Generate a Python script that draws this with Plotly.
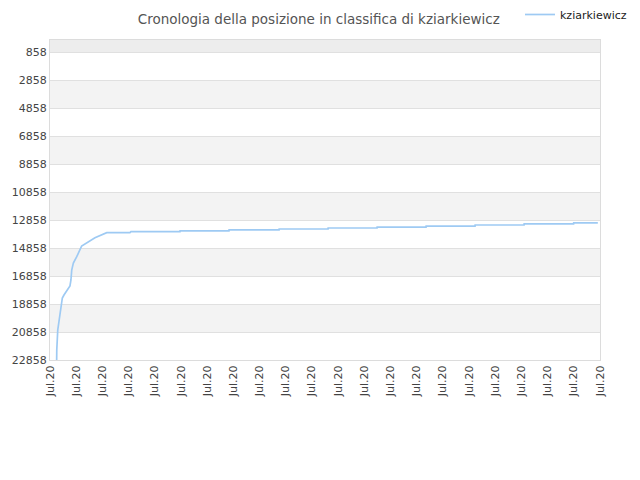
import plotly.graph_objects as go

# rank history of kziarkiewicz (lower number = better position)
timestamps = [
    "2020-07-01 06:06", "2020-07-01 06:12", "2020-07-01 07:06", "2020-07-01 08:12",
    "2020-07-01 09:48", "2020-07-01 11:18", "2020-07-01 12:48", "2020-07-01 18:18",
    "2020-07-01 19:12", "2020-07-01 19:54", "2020-07-01 21:24", "2020-07-02 00:30",
    "2020-07-02 05:00", "2020-07-02 11:06", "2020-07-02 17:12", "2020-07-03 04:00",
    "2020-07-04 01:18", "2020-07-04 02:12",
    "2020-07-05 23:06", "2020-07-05 23:12",
    "2020-07-07 20:00", "2020-07-07 20:06",
    "2020-07-09 17:54", "2020-07-09 18:00",
    "2020-07-11 14:48", "2020-07-11 14:54",
    "2020-07-13 11:42", "2020-07-13 11:48",
    "2020-07-15 08:36", "2020-07-15 08:42",
    "2020-07-17 05:30", "2020-07-17 05:36",
    "2020-07-19 02:24", "2020-07-19 02:30",
    "2020-07-20 23:48", "2020-07-20 23:54",
    "2020-07-21 22:00",
]
ranks = [
    22858, 22144, 20715, 20001,
    19051, 18429, 18215, 17572,
    17144, 16430, 15929, 15480,
    14715, 14408, 14122, 13765,
    13765, 13694,
    13694, 13630,
    13630, 13565,
    13565, 13500,
    13500, 13430,
    13430, 13360,
    13360, 13290,
    13290, 13215,
    13215, 13140,
    13140, 13070,
    13070,
]
y_ticks = [858, 2858, 4858, 6858, 8858, 10858, 12858, 14858, 16858, 18858, 20858, 22858]
y_top = 0
x_start = "2020-07-01"
x_end = "2020-07-22"

fig = go.Figure()
fig.add_trace(go.Scatter(
    x=timestamps, y=ranks, mode="lines", name="kziarkiewicz",
    line=dict(color="#9ecaf3", width=1.7),
))

# alternating background bands
shapes = [dict(type="rect", xref="paper", yref="y", x0=0, x1=1,
               y0=y_top, y1=y_ticks[0], fillcolor="#ededed",
               line_width=0, layer="below")]
for i in range(1, len(y_ticks) - 1, 2):
    shapes.append(dict(type="rect", xref="paper", yref="y", x0=0, x1=1,
                       y0=y_ticks[i], y1=y_ticks[i + 1], fillcolor="#f3f3f3",
                       line_width=0, layer="below"))

# page has an 8px body margin, so the figure is sized to fit inside it
fig.update_layout(
    width=624, height=464,
    margin=dict(l=42, r=32, t=32, b=112, autoexpand=False),
    paper_bgcolor="white", plot_bgcolor="white",
    font=dict(family="DejaVu Sans", size=11, color="#444"),
    title=dict(text="Cronologia della posizione in classifica di kziarkiewicz",
               x=0.498, xref="container", y=0.985, yref="container", yanchor="top",
               font=dict(family="DejaVu Sans", size=13.5, color="#555")),
    showlegend=True,
    legend=dict(x=0.8205, y=0.986, xref="container", yref="container",
                xanchor="left", yanchor="middle",
                orientation="h", bgcolor="rgba(0,0,0,0)",
                font=dict(size=11, color="#222")),
    shapes=shapes,
)
fig.update_xaxes(
    type="date", range=[x_start, x_end], dtick=86400000, tick0=x_start,
    tickformat="%b.%y", tickangle=-90, showgrid=False, automargin=False,
    showline=True, linecolor="#dcdcdc", mirror=True, ticks="",
    tickfont=dict(size=11, color="#444"),
)
fig.update_yaxes(
    range=[y_ticks[-1], y_top], tickvals=y_ticks, tickformat="d",
    showgrid=True, gridcolor="#e0e0e0", zeroline=False, automargin=False,
    showline=True, linecolor="#dcdcdc", mirror=True, ticks="",
    tickfont=dict(size=11, color="#444"),
)

fig.write_html("out.html")
